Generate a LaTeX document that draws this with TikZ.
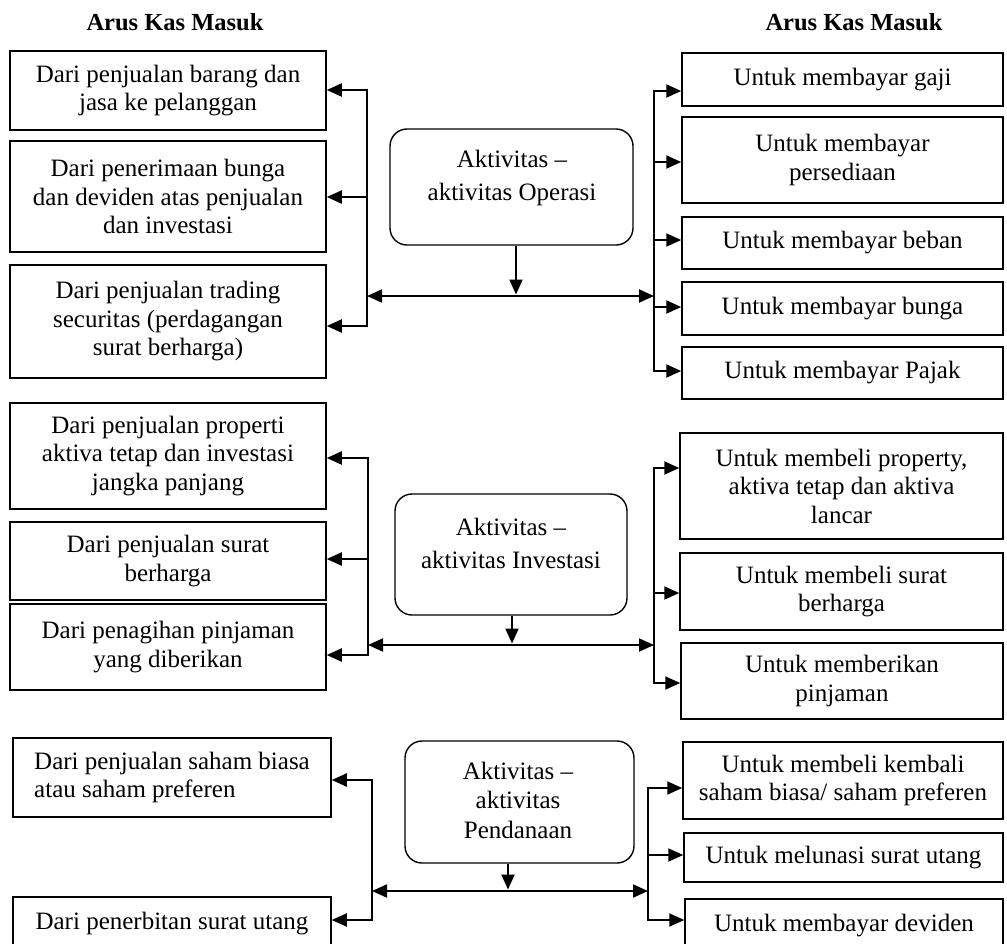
\documentclass[tikz,border=0pt]{standalone}
\usepackage{fontspec}
\setmainfont{Liberation Serif}
\usetikzlibrary{arrows.meta}
\begin{document}
\begin{tikzpicture}[x=1pt,y=-1pt,
  box/.style={draw, line width=1.5pt, inner sep=0pt, align=center, font=\fontsize{25}{28.5}\selectfont},
  lbox/.style={box, minimum width=316pt},
  rtbox/.style={box, minimum width=321pt},
  rbox/.style={draw, line width=1.4pt, rounded corners=17pt, inner sep=0pt},
  txt/.style={inner sep=0pt, align=center, font=\fontsize{25}{33}\selectfont},
  ttl/.style={inner sep=0pt, font=\fontsize{24.5}{29}\selectfont\bfseries},
  con/.style={line width=2pt},
  tip/.style={-{Triangle[length=15pt,width=13pt]}, line width=2pt},
  tips/.style={{Triangle[length=15pt,width=13pt]}-{Triangle[length=15pt,width=13pt]}, line width=2pt},
]
\fill[white] (0,0) rectangle (1007,943);
\useasboundingbox (0,0) rectangle (1007,943);

% titles
\node[ttl] (t1) at (175,22) {Arus Kas Masuk};
\node[ttl] (t2) at (854,22) {Arus Kas Masuk};

% ---------- Operasi ----------
\node[lbox, minimum height=79pt] (L1) at (168,90.5) {Dari penjualan barang dan\\jasa ke pelanggan};
\node[lbox, minimum height=111pt] (L2) at (168,196.5) {Dari penerimaan bunga\\dan deviden atas penjualan\\dan investasi};
\node[lbox, minimum height=113pt] (L3) at (168,321.5) {Dari penjualan trading\\securitas (perdagangan\\surat berharga)};

\node[rbox, minimum width=243pt, minimum height=116pt] (op) at (511.5,187) {};
\node[txt] (opt) at (512,178) {Aktivitas \textendash\\aktivitas Operasi};

\node[rtbox, minimum height=53pt] (R1) at (842.5,79.5) {Untuk membayar gaji};
\node[rtbox, minimum height=86pt] (R2) at (842.5,160) {Untuk membayar\\persediaan};
\node[rtbox, minimum height=52pt] (R3) at (842.5,243) {Untuk membayar beban};
\node[rtbox, minimum height=53pt] (R4) at (842.5,308.5) {Untuk membayar bunga};
\node[rtbox, minimum height=52pt] (R5) at (842.5,373) {Untuk membayar Pajak};

\coordinate (a1) at (367,90);
\coordinate (a2) at (367,197);
\coordinate (a3) at (367,326);
\coordinate (b1) at (654,91);
\coordinate (b2) at (654,162);
\coordinate (b3) at (654,240);
\coordinate (b4) at (654,307);
\coordinate (b5) at (654,371);
\coordinate (opL) at (367,296);
\coordinate (opR) at (654,296);
\coordinate (opD) at (516,294.5);

\draw[tips] (a1 -| L1.east) -- (a1) -- (a3) -- (a3 -| L3.east);
\draw[tip] (a2) -- (a2 -| L2.east);
\draw[tips] (b1 -| R1.west) -- (b1) -- (b5) -- (b5 -| R5.west);
\draw[tip] (b2) -- (b2 -| R2.west);
\draw[tip] (b3) -- (b3 -| R3.west);
\draw[tip] (b4) -- (b4 -| R4.west);
\draw[tips] (opL) -- (opR);
\draw[tip] (op.south -| opD) -- (opD);

% ---------- Investasi ----------
\node[lbox, minimum height=106pt] (L4) at (168,456) {Dari penjualan properti\\aktiva tetap dan investasi\\jangka panjang};
\node[lbox, minimum height=78pt] (L5) at (168,561) {Dari penjualan surat\\berharga};
\node[lbox, minimum height=86pt] (L6) at (168,647) {Dari penagihan pinjaman\\yang diberikan};

\node[rbox, minimum width=232pt, minimum height=121pt] (inv) at (511,554.5) {};
\node[txt] (invt) at (511,543) {Aktivitas \textendash\\aktivitas Investasi};

\node[box, minimum width=323pt, minimum height=106pt] (R6) at (841.5,486) {Untuk membeli property,\\aktiva tetap dan aktiva\\lancar};
\node[box, minimum width=323pt, minimum height=77pt] (R7) at (841.5,591.5) {Untuk membeli surat\\berharga};
\node[box, minimum width=322pt, minimum height=76pt] (R8) at (842,681) {Untuk memberikan\\pinjaman};

\coordinate (d1) at (368,458);
\coordinate (d2) at (368,559);
\coordinate (d3) at (368,655);
\coordinate (e1) at (654,468);
\coordinate (e2) at (654,593);
\coordinate (e3) at (654,683);
\coordinate (invL) at (368,645);
\coordinate (invR) at (654,645);
\coordinate (invD) at (512,643.5);

\draw[tips] (d1 -| L4.east) -- (d1) -- (d3) -- (d3 -| L6.east);
\draw[tip] (d2) -- (d2 -| L5.east);
\draw[tips] (e1 -| R6.west) -- (e1) -- (e3) -- (e3 -| R8.west);
\draw[tip] (e2) -- (e2 -| R7.west);
\draw[tips] (invL) -- (invR);
\draw[tip] (inv.south -| invD) -- (invD);

% ---------- Pendanaan ----------
\node[box, minimum width=318pt, minimum height=79pt, align=left] (L7) at (172,777.5) {Dari penjualan saham biasa\\atau saham preferen};
\node[box, minimum width=318pt, minimum height=54pt, align=left] (L8) at (172,924) {Dari penerbitan surat utang};

\node[rbox, minimum width=229pt, minimum height=122pt] (pend) at (519.5,802) {};
\node[txt, font=\fontsize{25}{29.5}\selectfont] (pendt) at (518,800) {Aktivitas \textendash\\aktivitas\\Pendanaan};

\node[box, minimum width=320pt, minimum height=77pt] (R9) at (843,780.5) {Untuk membeli kembali\\saham biasa/ saham preferen};
\node[box, minimum width=319pt, minimum height=49pt] (R10) at (843.5,857.5) {Untuk melunasi surat utang};
\node[box, minimum width=318pt, minimum height=54pt] (R11) at (844,926) {Untuk membayar deviden};

\coordinate (f1) at (372,780);
\coordinate (f2) at (372,920);
\coordinate (g1) at (648,788);
\coordinate (g2) at (648,855);
\coordinate (g3) at (648,920);
\coordinate (pL) at (372,891);
\coordinate (pR) at (648,891);
\coordinate (pD) at (508,889.5);

\draw[tips] (f1 -| L7.east) -- (f1) -- (f2) -- (f2 -| L8.east);
\draw[tips] (g1 -| R9.west) -- (g1) -- (g3) -- (g3 -| R11.west);
\draw[tip] (g2) -- (g2 -| R10.west);
\draw[tips] (pL) -- (pR);
\draw[tip] (pend.south -| pD) -- (pD);
\end{tikzpicture}
\end{document}
